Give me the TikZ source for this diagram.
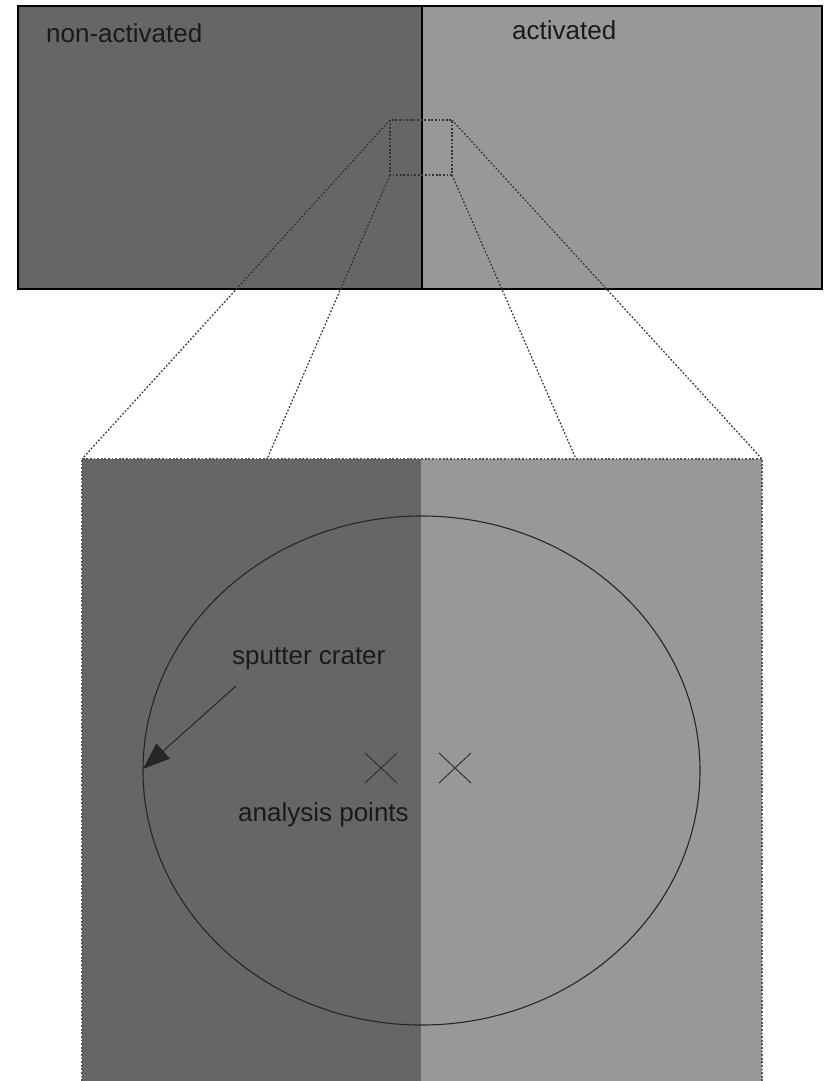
\documentclass[tikz,border=0pt]{standalone}
\usepackage{fontspec}
\setmainfont{Liberation Sans}
\usetikzlibrary{arrows.meta}
\definecolor{darkreg}{HTML}{666666}
\definecolor{lightreg}{HTML}{989898}
\definecolor{txt}{HTML}{1A1A1A}
\definecolor{dotc}{HTML}{333333}
\definecolor{framec}{HTML}{555555}
\begin{document}
\begin{tikzpicture}[x=1pt,y=-1pt,
  lbl/.style={anchor=base west,inner sep=0pt,text=txt,font=\fontsize{26}{30}\selectfont},
  zoomline/.style={draw=dotc,line width=1.2pt,dash pattern=on 1.8pt off 1.8pt},
  crossmark/.style={draw=black!80,line width=1pt}]
\useasboundingbox (0,0) rectangle (825,1081);
\fill[white] (0,0) rectangle (825,1081);
% top sample
\fill[darkreg] (18,6) rectangle (422,289);
\fill[lightreg] (422,6) rectangle (822,289);
\draw[black,line width=1.4pt] (18,6) rectangle (822,289);
\draw[black,line width=1.4pt] (422,6) -- (422,289);
\node[lbl] (nonact) at (46,43) {non-activated};
\node[lbl] (act) at (512,40) {activated};
% zoom window
\coordinate (wtl) at (390,120);
\coordinate (wtr) at (452,120);
\coordinate (wbl) at (390,175);
\coordinate (wbr) at (452,175);
\draw[zoomline] (wtl) rectangle (wbr);
% bottom enlarged view
\fill[darkreg] (82,459) rectangle (421,1081);
\fill[lightreg] (421,459) rectangle (762,1081);
\draw[draw=framec,line width=1.2pt,dash pattern=on 1.8pt off 1.8pt] (82,1081) -- (82,459) -- (762,459) -- (762,1081);
\coordinate (btl) at (82,459);
\coordinate (btr) at (762,459);
\coordinate (bml) at (267,459);
\coordinate (bmr) at (576,459);
\draw[zoomline] (wtl) -- (btl);
\draw[zoomline] (wbl) -- (bml);
\draw[zoomline] (wbr) -- (bmr);
\draw[zoomline] (wtr) -- (btr);
% crater
\draw[black!85,line width=1.1pt] (421.5,770.5) ellipse [x radius=278.5, y radius=254.5];
\coordinate (craterleft) at (143,769);
\node[lbl] (sputter) at (232,664) {sputter crater};
\coordinate (arrstart) at (236,686);
\draw[black!85,line width=1pt,-{Triangle[length=27pt,width=20pt]}] (arrstart) -- (craterleft);
% analysis points
\draw[crossmark] (365,753) -- (397,783) (365,783) -- (397,753);
\draw[crossmark] (439,753) -- (471,783) (439,783) -- (471,753);
\node[lbl] (analysis) at (238,821) {analysis points};
\end{tikzpicture}
\end{document}
